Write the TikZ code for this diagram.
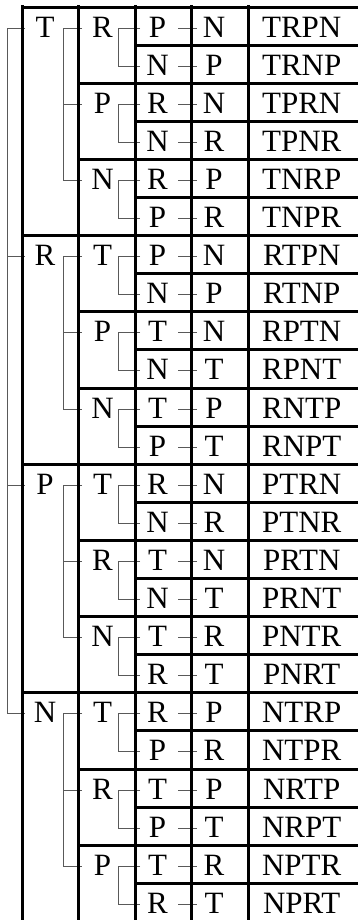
\documentclass[tikz,border=0pt]{standalone}
\usepackage{fontspec}
\setmainfont{Liberation Serif}
\begin{document}
\begin{tikzpicture}[x=1pt,y=-1pt,
  grid/.style={line width=2.8pt,black},
  conn/.style={line width=1.3pt,black!65},
  lbl/.style={font=\fontsize{31}{31}\selectfont,anchor=base,inner sep=0pt}]
\useasboundingbox (0,0) rectangle (358,920);

% one row per permutation; the tree levels are printed only on the first row of their group
\foreach \a/\b/\c/\d [count=\r] in {
  T/R/P/N,T/R/N/P,T/P/R/N,T/P/N/R,T/N/R/P,T/N/P/R,
  R/T/P/N,R/T/N/P,R/P/T/N,R/P/N/T,R/N/T/P,R/N/P/T,
  P/T/R/N,P/T/N/R,P/R/T/N,P/R/N/T,P/N/T/R,P/N/R/T,
  N/T/R/P,N/T/P/R,N/R/T/P,N/R/P/T,N/P/T/R,N/P/R/T} {
  \pgfmathsetmacro\yc{floor(7+38.1*(\r-0.5)+2)+0.5}
  \pgfmathtruncatemacro\msix{mod(\r,6)}
  \pgfmathtruncatemacro\mtwo{mod(\r,2)}
  % level 1
  \ifnum\msix=1
    \node[lbl] (A\r) at (45,\yc+9) {\a};
    \coordinate (jA\r) at (7.5,\yc);
    \coordinate (eA\r) at (25,\yc);
  \fi
  % level 2
  \ifnum\mtwo=1
    \node[lbl] (B\r) at (102.5,\yc+9) {\b};
    \coordinate (jB\r) at (63.5,\yc);
    \coordinate (eB\r) at (82,\yc);
  \fi
  % level 3 and 4
  \node[lbl] (C\r) at (157.5,\yc+9) {\c};
  \coordinate (jC\r) at (118.5,\yc);
  \coordinate (eC\r) at (140,\yc);
  \node[lbl] (D\r) at (214,\yc+9) {\d};
  \coordinate (sD\r) at (178.3,\yc);
  \coordinate (eD\r) at (197.3,\yc);
  \node[lbl] (W\r) at (301.7,\yc+9) {\a\b\c\d};
  % single child: a plain tick
  \draw[conn] (sD\r) -- (eD\r);
}

% level 1 bracket
\draw[conn] (eA1) -- (jA1) -- (jA19) -- (eA19);
\foreach \r in {7,13} \draw[conn] (jA\r) -- (eA\r);

% level 2 brackets
\foreach \r in {1,7,13,19} {
  \pgfmathtruncatemacro\rm{\r+2}
  \pgfmathtruncatemacro\rl{\r+4}
  \draw[conn] (eB\r) -- (jB\r) -- (jB\rl) -- (eB\rl);
  \draw[conn] (jB\rm) -- (eB\rm);
}

% level 3 brackets
\foreach \r in {1,3,...,23} {
  \pgfmathtruncatemacro\rn{\r+1}
  \draw[conn] (eC\r) -- (jC\r) -- (jC\rn) -- (eC\rn);
}

% column rules
\foreach \x in {22.5,78.5,135.5,191.5,248.5}
  \draw[grid] (\x,5.1) -- (\x,920);

% row rules: full width between level-1 groups, shorter inside
\foreach \k in {0,...,23} {
  \pgfmathtruncatemacro\msix{mod(\k,6)}
  \pgfmathtruncatemacro\mtwo{mod(\k,2)}
  \pgfmathsetmacro\xs{\msix==0 ? 21.1 : (\mtwo==0 ? 78.5 : 135.5)}
  \pgfmathsetmacro\yk{floor(7+38.1*\k)+0.5}
  \draw[grid] (\xs,\yk) -- (358,\yk);
}
\end{tikzpicture}
\end{document}
